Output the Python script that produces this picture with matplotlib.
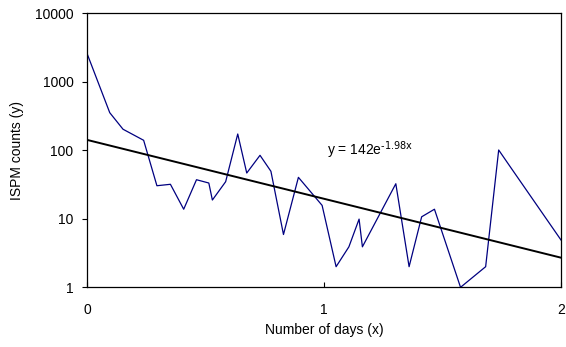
import matplotlib
matplotlib.use("Agg")
import matplotlib.pyplot as plt
import numpy as np

# data
days = [0.0, 0.096, 0.152, 0.239, 0.295, 0.352, 0.408, 0.462, 0.514, 0.529,
        0.585, 0.636, 0.674, 0.730, 0.776, 0.829, 0.892, 0.992, 1.051, 1.105,
        1.148, 1.162, 1.303, 1.359, 1.412, 1.466, 1.576, 1.682, 1.737, 1.785,
        2.0]
counts = [2600, 354, 203, 140, 30.4, 31.9, 13.8, 37.2, 33.3, 18.8,
          34.8, 173, 46.6, 84.5, 49.4, 5.9, 40.3, 15.7, 2.0, 3.9,
          9.9, 3.9, 32.5, 2.0, 10.7, 13.8, 1.0, 2.0, 101, 58,
          4.9]

# exponential trendline  y = a * exp(b * x)
fit_a = 142
fit_b = -1.98
fit_x = [0.0, 2.0]

plt.rcParams['font.family'] = ['Liberation Sans', 'DejaVu Sans']
plt.rcParams['mathtext.default'] = 'regular'

fs = 10

fig = plt.figure(figsize=(5.66, 3.47), dpi=100)
ax = fig.add_axes([0.1537, 0.172, 0.8375, 0.7897])

ax.plot(days, counts, color='#000080', lw=0.9)
fx = np.array(fit_x)
ax.plot(fx, fit_a * np.exp(fit_b * fx), color='black', lw=1.4)

ax.set_yscale('log')
ax.set_xlim(0, 2)
ax.set_ylim(1, 10000)
ax.set_xticks([0, 1, 2])
ax.set_xticklabels(['0', '1', '2'])
ax.set_yticks([1, 10, 100, 1000, 10000])
ax.set_yticklabels(['1', '10', '100', '1000', '10000'])
ax.yaxis.set_minor_locator(matplotlib.ticker.NullLocator())

ax.tick_params(axis='y', direction='out', length=3.3, width=0.8, pad=6.5, labelsize=fs)
ax.tick_params(axis='x', direction='in', length=3.3, width=0.8, pad=11.5, labelsize=fs)
for s in ax.spines.values():
    s.set_linewidth(0.9)

ax.set_xlabel('Number of days (x)', fontsize=fs, labelpad=4)
ax.set_ylabel('ISPM counts (y)', fontsize=fs, labelpad=8)

ax.text(1.011, 101, r'y = 142e$^{\text{-1.98x}}$', fontsize=fs, va='center', ha='left')

fig.savefig('out.png', dpi=100)
